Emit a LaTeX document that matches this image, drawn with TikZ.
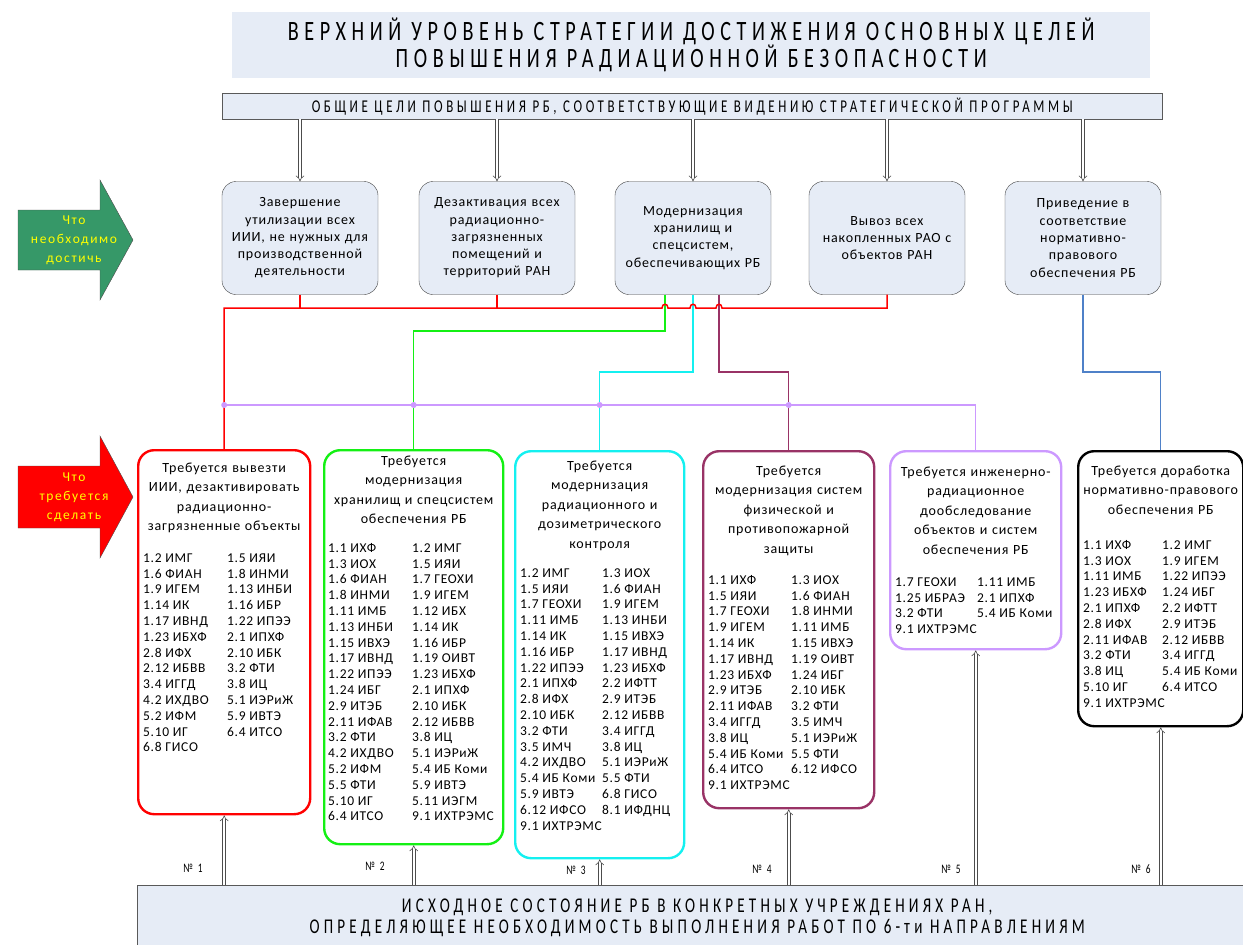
\documentclass[tikz,border=0pt]{standalone}
\usepackage{fontspec}
\setmainfont{Carlito}
\newfontfamily\widefont[LetterSpace=6]{Carlito}
\newfontfamily\listfont[LetterSpace=5]{Carlito}
\newfontfamily\signfont[LetterSpace=12]{Carlito}
\newfontfamily\capsfont[FakeStretch=0.72,LetterSpace=20]{Carlito}
\usetikzlibrary{arrows.meta,calc}

\definecolor{paleblue}{RGB}{230,236,246}
\definecolor{goalgreen}{RGB}{54,152,104}
\definecolor{workgreen}{RGB}{20,240,20}
\definecolor{workcyan}{RGB}{20,240,240}
\definecolor{workmaroon}{RGB}{153,51,102}
\definecolor{worklav}{RGB}{204,153,255}
\definecolor{normblue}{RGB}{79,129,200}
\definecolor{signyellow}{RGB}{255,255,0}

\newcommand{\reglist}[2]{\begin{tabular}{@{}p{#1pt}@{}l@{}}#2\end{tabular}}

\tikzset{
  goal/.style={draw=black!75, fill=paleblue, rounded corners=14pt, minimum width=156pt,
    minimum height=113pt, text width=150pt, align=center, inner sep=0pt,
    font=\widefont\fontsize{14}{17.3}\selectfont},
  work/.style={draw=#1, line width=2.4pt, rounded corners=16pt, anchor=north west, inner sep=0pt},
  worktitle/.style={anchor=base, text width=200pt, align=center, inner sep=0pt,
    font=\widefont\fontsize{14}{19.5}\selectfont},
  worklist/.style={anchor=north west, inner sep=0pt, font=\listfont\fontsize{13.5}{15.8}\selectfont},
  pipe/.style={draw=black!70, double=white, double distance=2.4pt, line width=0.6pt, -{Implies}},
  bus/.style={line width=1.5pt},
  joint/.style={circle, fill=worklav, inner sep=0pt, minimum size=6pt},
  numlabel/.style={inner sep=0pt, font=\capsfont\fontsize{13}{15}\selectfont},
  sign/.style={align=center, inner sep=0pt, text=signyellow, font=\signfont\fontsize{13.5}{19}\selectfont},
  band/.style={fill=paleblue, anchor=north west, inner sep=0pt, align=center}
}

\begin{document}
\begin{tikzpicture}[x=1pt, y=-1pt]
  \useasboundingbox (0,0) rectangle (1243,945);

  % Headers
  \node[band, minimum width=918pt, minimum height=66pt, font=\capsfont\fontsize{28}{27}\selectfont]
    (head) at (232,12) {ВЕРХНИЙ УРОВЕНЬ СТРАТЕГИИ ДОСТИЖЕНИЯ ОСНОВНЫХ ЦЕЛЕЙ\\ПОВЫШЕНИЯ РАДИАЦИОННОЙ БЕЗОПАСНОСТИ};
  \node[band, draw=black!65, minimum width=940pt, minimum height=26pt, font=\capsfont\fontsize{18}{18}\selectfont]
    (aims) at (222,93) {ОБЩИЕ ЦЕЛИ ПОВЫШЕНИЯ РБ, СООТВЕТСТВУЮЩИЕ ВИДЕНИЮ СТРАТЕГИЧЕСКОЙ ПРОГРАММЫ};

  % Left signs
  \filldraw[fill=goalgreen, draw=black!70] (18,210) -- (100,210) -- (100,180) -- (133,240)
    -- (100,300) -- (100,270) -- (18,270) -- cycle;
  \node[sign] (signgoal) at (74,240) {Что\\необходимо\\достичь};
  \filldraw[fill=red, draw=black!70] (18,466) -- (100,466) -- (100,436) -- (133,497)
    -- (100,558) -- (100,528) -- (18,528) -- cycle;
  \node[sign] (signwork) at (74,497) {Что\\требуется\\сделать};

  % Goals
  \node[goal] (t1) at (300,238) {Завершение\\утилизации всех\\ИИИ, не нужных для\\производственной\\деятельности};
  \node[goal] (t2) at (497,238) {Дезактивация всех\\радиационно-\\загрязненных\\помещений и\\территорий РАН};
  \node[goal] (t3) at (693,238) {Модернизация\\хранилищ и\\спецсистем,\\обеспечивающих РБ};
  \node[goal] (t4) at (887,238) {Вывоз всех\\накопленных РАО с\\объектов РАН};
  \node[goal] (t5) at (1083,238) {Приведение в\\соответствие\\нормативно-\\правового\\обеспечения РБ};

  \foreach \t in {t1,t2,t3,t4,t5}
    \draw[pipe] (aims.south -| \t) -- (\t);

  % Work boxes
  \node[work=red, minimum width=172pt, minimum height=364pt] (b1) at (137,449) {};
  \node[work=workgreen, minimum width=179pt, minimum height=394pt] (b2) at (323,449) {};
  \node[work=workcyan, minimum width=169pt, minimum height=407pt] (b3) at (514,450) {};
  \node[work=workmaroon, minimum width=171pt, minimum height=357pt] (b4) at (702,450) {};
  \node[work=worklav, minimum width=171pt, minimum height=198pt] (b5) at (889,450) {};
  \node[work=black, minimum width=165pt, minimum height=275pt] (b6) at (1077,450) {};

  \node[worktitle] (b1t) at (b1.north |- 0,472) {Требуется вывезти\\ИИИ, дезактивировать\\радиационно-\\загрязненные объекты};
  \node[worktitle] (b2t) at (b2.north |- 0,465) {Требуется\\модернизация\\хранилищ и спецсистем\\обеспечения РБ};
  \node[worktitle] (b3t) at (b3.north |- 0,470) {Требуется\\модернизация\\радиационного и\\дозиметрического\\контроля};
  \node[worktitle] (b4t) at (b4.north |- 0,475) {Требуется\\модернизация систем\\физической и\\противопожарной\\защиты};
  \node[worktitle] (b5t) at (b5.north |- 0,476) {Требуется инженерно-\\радиационное\\дообследование\\объектов и систем\\обеспечения РБ};
  \node[worktitle] (b6t) at (b6.north |- 0,475) {Требуется доработка\\нормативно-правового\\обеспечения РБ};

  \node[worklist] (b1l) at (143,551) {\reglist{84}{
    1.2 ИМГ & 1.5 ИЯИ\\ 1.6 ФИАН & 1.8 ИНМИ\\ 1.9 ИГЕМ & 1.13 ИНБИ\\ 1.14 ИК & 1.16 ИБР\\
    1.17 ИВНД & 1.22 ИПЭЭ\\ 1.23 ИБХФ & 2.1 ИПХФ\\ 2.8 ИФХ & 2.10 ИБК\\ 2.12 ИБВВ & 3.2 ФТИ\\
    3.4 ИГГД & 3.8 ИЦ\\ 4.2 ИХДВО & 5.1 ИЭРиЖ\\ 5.2 ИФМ & 5.9 ИВТЭ\\ 5.10 ИГ & 6.4 ИТСО\\
    6.8 ГИСО &}};
  \node[worklist] (b2l) at (328,541) {\reglist{84}{
    1.1 ИХФ & 1.2 ИМГ\\ 1.3 ИОХ & 1.5 ИЯИ\\ 1.6 ФИАН & 1.7 ГЕОХИ\\ 1.8 ИНМИ & 1.9 ИГЕМ\\
    1.11 ИМБ & 1.12 ИБХ\\ 1.13 ИНБИ & 1.14 ИК\\ 1.15 ИВХЭ & 1.16 ИБР\\ 1.17 ИВНД & 1.19 ОИВТ\\
    1.22 ИПЭЭ & 1.23 ИБХФ\\ 1.24 ИБГ & 2.1 ИПХФ\\ 2.9 ИТЭБ & 2.10 ИБК\\ 2.11 ИФАВ & 2.12 ИБВВ\\
    3.2 ФТИ & 3.8 ИЦ\\ 4.2 ИХДВО & 5.1 ИЭРиЖ\\ 5.2 ИФМ & 5.4 ИБ Коми\\ 5.5 ФТИ & 5.9 ИВТЭ\\
    5.10 ИГ & 5.11 ИЭГМ\\ 6.4 ИТСО & 9.1 ИХТРЭМС}};
  \node[worklist] (b3l) at (520,566) {\reglist{82}{
    1.2 ИМГ & 1.3 ИОХ\\ 1.5 ИЯИ & 1.6 ФИАН\\ 1.7 ГЕОХИ & 1.9 ИГЕМ\\ 1.11 ИМБ & 1.13 ИНБИ\\
    1.14 ИК & 1.15 ИВХЭ\\ 1.16 ИБР & 1.17 ИВНД\\ 1.22 ИПЭЭ & 1.23 ИБХФ\\ 2.1 ИПХФ & 2.2 ИФТТ\\
    2.8 ИФХ & 2.9 ИТЭБ\\ 2.10 ИБК & 2.12 ИБВВ\\ 3.2 ФТИ & 3.4 ИГГД\\ 3.5 ИМЧ & 3.8 ИЦ\\
    4.2 ИХДВО & 5.1 ИЭРиЖ\\ 5.4 ИБ Коми & 5.5 ФТИ\\ 5.9 ИВТЭ & 6.8 ГИСО\\ 6.12 ИФСО & 8.1 ИФДНЦ\\
    \multicolumn{2}{@{}l@{}}{9.1 ИХТРЭМС}}};
  \node[worklist] (b4l) at (708,573) {\reglist{83}{
    1.1 ИХФ & 1.3 ИОХ\\ 1.5 ИЯИ & 1.6 ФИАН\\ 1.7 ГЕОХИ & 1.8 ИНМИ\\ 1.9 ИГЕМ & 1.11 ИМБ\\
    1.14 ИК & 1.15 ИВХЭ\\ 1.17 ИВНД & 1.19 ОИВТ\\ 1.23 ИБХФ & 1.24 ИБГ\\ 2.9 ИТЭБ & 2.10 ИБК\\
    2.11 ИФАВ & 3.2 ФТИ\\ 3.4 ИГГД & 3.5 ИМЧ\\ 3.8 ИЦ & 5.1 ИЭРиЖ\\ 5.4 ИБ Коми & 5.5 ФТИ\\
    6.4 ИТСО & 6.12 ИФСО\\ \multicolumn{2}{@{}l@{}}{9.1 ИХТРЭМС}}};
  \node[worklist] (b5l) at (895,575) {\reglist{82}{
    1.7 ГЕОХИ & 1.11 ИМБ\\ 1.25 ИБРАЭ & 2.1 ИПХФ\\ 3.2 ФТИ & 5.4 ИБ Коми\\
    \multicolumn{2}{@{}l@{}}{9.1 ИХТРЭМС}}};
  \node[worklist] (b6l) at (1083,538) {\reglist{79}{
    1.1 ИХФ & 1.2 ИМГ\\ 1.3 ИОХ & 1.9 ИГЕМ\\ 1.11 ИМБ & 1.22 ИПЭЭ\\ 1.23 ИБХФ & 1.24 ИБГ\\
    2.1 ИПХФ & 2.2 ИФТТ\\ 2.8 ИФХ & 2.9 ИТЭБ\\ 2.11 ИФАВ & 2.12 ИБВВ\\ 3.2 ФТИ & 3.4 ИГГД\\
    3.8 ИЦ & 5.4 ИБ Коми\\ 5.10 ИГ & 6.4 ИТСО\\ \multicolumn{2}{@{}l@{}}{9.1 ИХТРЭМС}}};

  % Buses
  \coordinate (redbus) at (0,308);
  \coordinate (greenbus) at (0,331);
  \coordinate (lowbus) at (0,372);
  \coordinate (lavbus) at (0,405);
  \coordinate (gtop) at ([xshift=-28pt]t3.south);
  \coordinate (mtop) at ([xshift=26pt]t3.south);

  \draw[bus, workgreen] (gtop) |- (greenbus -| b2.north) -- (b2.north);
  \draw[bus, workcyan] (t3.south) |- (lowbus -| b3.north) -- (b3.north);
  \draw[bus, workmaroon] (mtop) |- (lowbus -| b4.north) -- (b4.north);
  \draw[bus, normblue] (t5.south) |- (lowbus -| b6.north) -- (b6.north);
  \draw[bus, red] (t1.south) -- (t1.south |- redbus);
  \draw[bus, red] (t2.south) -- (t2.south |- redbus);
  \draw[bus, red] (b1.north) |- ($(gtop |- redbus)+(-3,0)$)
    .. controls +(0,-5) and +(0,-5) .. ($(gtop |- redbus)+(3,0)$)
    -- ($(t3.south |- redbus)+(-3,0)$)
    .. controls +(0,-5) and +(0,-5) .. ($(t3.south |- redbus)+(3,0)$)
    -- ($(mtop |- redbus)+(-3,0)$)
    .. controls +(0,-5) and +(0,-5) .. ($(mtop |- redbus)+(3,0)$)
    -| (t4.south);
  \draw[bus, worklav] (lavbus -| b1.north) -| (b5.north);
  \foreach \b in {b1,b2,b3,b4}
    \node[joint] (j\b) at (lavbus -| \b.north) {};

  % Source
  \node[band, draw=black!65, minimum width=1120pt, minimum height=66pt, font=\capsfont\fontsize{21}{21}\selectfont]
    (src) at (137,885) {ИСХОДНОЕ СОСТОЯНИЕ РБ В КОНКРЕТНЫХ УЧРЕЖДЕНИЯХ РАН,\\ОПРЕДЕЛЯЮЩЕЕ НЕОБХОДИМОСТЬ ВЫПОЛНЕНИЯ РАБОТ ПО 6-ти НАПРАВЛЕНИЯМ};
  \foreach \b in {b1,b2,b3,b4,b5,b6}
    \draw[pipe] (src.north -| \b) -- (\b);

  \node[numlabel] (n1) at (193,868) {№ 1};
  \node[numlabel] (n2) at (375,866) {№ 2};
  \node[numlabel] (n3) at (576,870) {№ 3};
  \node[numlabel] (n4) at (762,869) {№ 4};
  \node[numlabel] (n5) at (951,869) {№ 5};
  \node[numlabel] (n6) at (1141,869) {№ 6};
\end{tikzpicture}
\end{document}
